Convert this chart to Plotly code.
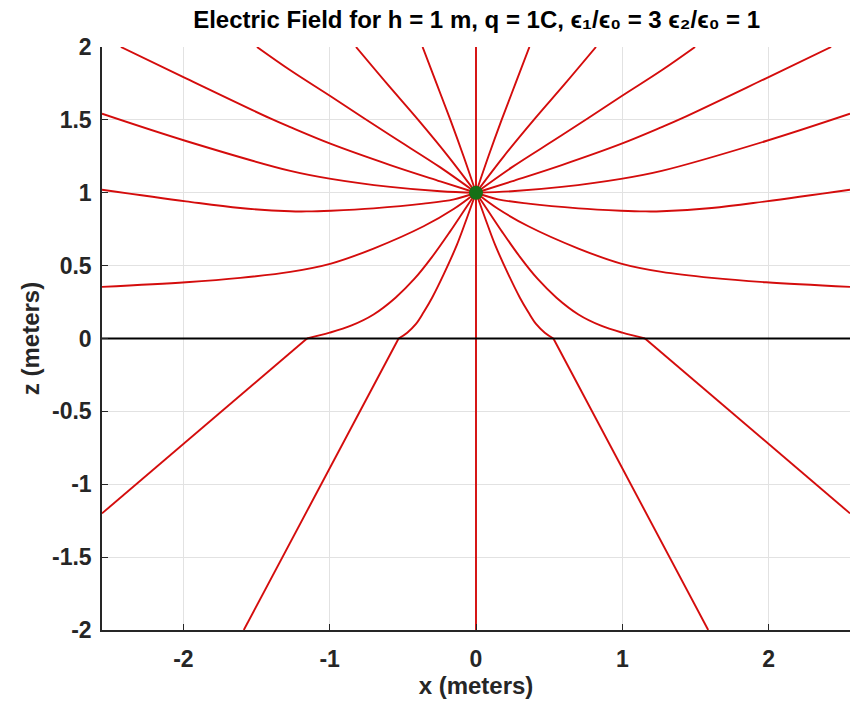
import plotly.graph_objects as go

# Field lines of a point charge at height h above a dielectric interface (z = 0).
# Upper region eps1/eps0 = 3 holds the charge, lower region eps2/eps0 = 1.

charge_x = [0.0]
charge_z = [1.0]

# Upper half-space lines, left side (read from charge outward)
l4_x = [0.0, -0.085, -0.175, -0.27, -0.365]
l4_z = [1.0, 1.25, 1.5, 1.75, 2.0]
l3_x = [0.0, -0.19, -0.395, -0.61, -0.82]
l3_z = [1.0, 1.25, 1.5, 1.75, 2.0]
l2_x = [0.0, -0.244, -0.586, -0.991, -1.269, -1.497]
l2_z = [1.0, 1.174, 1.394, 1.66, 1.84, 2.0]
l1_x = [0.0, -0.244, -0.586, -0.991, -1.269, -1.406, -1.982, -2.427]
l1_z = [1.0, 1.078, 1.19, 1.335, 1.45, 1.51, 1.785, 2.0]
l5_x = [0.0, -0.244, -0.586, -0.991, -1.269, -1.982, -2.556]
l5_z = [1.0, 1.01, 1.04, 1.095, 1.15, 1.355, 1.542]
l6_x = [0.0, -0.15, -0.358, -0.7, -0.991, -1.155, -1.269, -1.611, -1.982, -2.556]
l6_z = [1.0, 0.955, 0.925, 0.893, 0.877, 0.872, 0.873, 0.895, 0.941, 1.021]
l7_x = [0.0, -0.15, -0.358, -0.7, -0.991, -1.269, -1.611, -1.982, -2.556]
l7_z = [1.0, 0.89, 0.77, 0.617, 0.514, 0.457, 0.416, 0.386, 0.354]
l8_x = [0.0, -0.08, -0.18, -0.3, -0.42, -0.55, -0.7, -0.85, -1.0, -1.155]
l8_z = [1.0, 0.88, 0.73, 0.56, 0.41, 0.28, 0.165, 0.09, 0.04, 0.0]
l9_x = [0.0, -0.062, -0.13, -0.221, -0.3, -0.358, -0.41, -0.47, -0.529]
l9_z = [1.0, 0.827, 0.644, 0.44, 0.28, 0.18, 0.1, 0.04, 0.0]

# Upper half-space lines, right side
r4_x = [0.0, 0.085, 0.175, 0.27, 0.365]
r4_z = [1.0, 1.25, 1.5, 1.75, 2.0]
r3_x = [0.0, 0.19, 0.395, 0.61, 0.82]
r3_z = [1.0, 1.25, 1.5, 1.75, 2.0]
r2_x = [0.0, 0.244, 0.586, 0.991, 1.269, 1.497]
r2_z = [1.0, 1.174, 1.394, 1.66, 1.84, 2.0]
r1_x = [0.0, 0.244, 0.586, 0.991, 1.269, 1.406, 1.982, 2.427]
r1_z = [1.0, 1.078, 1.19, 1.335, 1.45, 1.51, 1.785, 2.0]
r5_x = [0.0, 0.244, 0.586, 0.991, 1.269, 1.982, 2.556]
r5_z = [1.0, 1.01, 1.04, 1.095, 1.15, 1.355, 1.542]
r6_x = [0.0, 0.15, 0.358, 0.7, 0.991, 1.155, 1.269, 1.611, 1.982, 2.556]
r6_z = [1.0, 0.955, 0.925, 0.893, 0.877, 0.872, 0.873, 0.895, 0.941, 1.021]
r7_x = [0.0, 0.15, 0.358, 0.7, 0.991, 1.269, 1.611, 1.982, 2.556]
r7_z = [1.0, 0.89, 0.77, 0.617, 0.514, 0.457, 0.416, 0.386, 0.354]
r8_x = [0.0, 0.08, 0.18, 0.3, 0.42, 0.55, 0.7, 0.85, 1.0, 1.155]
r8_z = [1.0, 0.88, 0.73, 0.56, 0.41, 0.28, 0.165, 0.09, 0.04, 0.0]
r9_x = [0.0, 0.062, 0.13, 0.221, 0.3, 0.358, 0.41, 0.47, 0.529]
r9_z = [1.0, 0.827, 0.644, 0.44, 0.28, 0.18, 0.1, 0.04, 0.0]

# Lower half-space: straight lines after refraction at z = 0
low_l8_x = [-1.155, -2.556]
low_l8_z = [0.0, -1.2]
low_l9_x = [-0.529, -1.587]
low_l9_z = [0.0, -2.0]
low_r8_x = [1.155, 2.556]
low_r8_z = [0.0, -1.2]
low_r9_x = [0.529, 1.587]
low_r9_z = [0.0, -2.0]

# Vertical line through the charge
axis_line_x = [0.0, 0.0]
axis_line_z = [-2.0, 2.0]

# Dielectric interface
interface_x = [-2.6, 2.6]
interface_z = [0.0, 0.0]

x_ticks = [-2, -1, 0, 1, 2]
x_tick_text = ["-2", "-1", "0", "1", "2"]
z_ticks = [-2, -1.5, -1, -0.5, 0, 0.5, 1, 1.5, 2]
z_tick_text = ["-2", "-1.5", "-1", "-0.5", "0", "0.5", "1", "1.5", "2"]

RED = "rgb(212,12,12)"
LW = 1.9
curves = [
    (l1_x, l1_z), (l2_x, l2_z), (l3_x, l3_z), (l4_x, l4_z), (l5_x, l5_z),
    (l6_x, l6_z), (l7_x, l7_z), (l8_x, l8_z), (l9_x, l9_z),
    (r1_x, r1_z), (r2_x, r2_z), (r3_x, r3_z), (r4_x, r4_z), (r5_x, r5_z),
    (r6_x, r6_z), (r7_x, r7_z), (r8_x, r8_z), (r9_x, r9_z),
]
straights = [
    (low_l8_x, low_l8_z), (low_l9_x, low_l9_z),
    (low_r8_x, low_r8_z), (low_r9_x, low_r9_z),
    (axis_line_x, axis_line_z),
]

fig = go.Figure()
for xs, zs in curves:
    fig.add_trace(go.Scatter(x=xs, y=zs, mode="lines",
                             line=dict(color=RED, width=LW, shape="spline", smoothing=1.0),
                             hoverinfo="skip", showlegend=False))
for xs, zs in straights:
    fig.add_trace(go.Scatter(x=xs, y=zs, mode="lines",
                             line=dict(color=RED, width=LW),
                             hoverinfo="skip", showlegend=False))

fig.add_trace(go.Scatter(x=interface_x, y=interface_z, mode="lines",
                         line=dict(color="black", width=2),
                         hoverinfo="skip", showlegend=False))
fig.add_trace(go.Scatter(x=charge_x, y=charge_z, mode="markers",
                         marker=dict(color="rgb(22,112,22)", size=14, line=dict(width=0)),
                         hoverinfo="skip", showlegend=False))

FONT = "Liberation Sans, Arial, Helvetica, sans-serif"
AX = "rgb(38,38,38)"
fig.update_layout(
    width=855, height=711,
    margin=dict(l=102, r=5, t=47, b=81),
    paper_bgcolor="white", plot_bgcolor="white",
    font=dict(family=FONT, size=23, color=AX, weight="bold"),
    title=dict(
        text="Electric Field for h = 1 m, q = 1C, ϵ₁/ϵ₀ = 3 ϵ₂/ϵ₀ = 1",
        x=0.5575, xanchor="center", y=0.973, yanchor="middle",
        font=dict(family=FONT, size=24, color="black", weight="bold"),
    ),
    xaxis=dict(
        range=[-2.556, 2.556], tickvals=x_ticks, ticktext=x_tick_text,
        showgrid=True, gridcolor="rgb(226,226,226)", gridwidth=1,
        zeroline=False, showline=True, linecolor=AX, linewidth=1.5,
        ticks="inside", ticklen=6, tickcolor=AX, ticklabelstandoff=8,
        tickfont=dict(size=23, weight="bold"),
        title=dict(text="x (meters)", font=dict(size=24, weight="bold"), standoff=6),
        mirror=False,
    ),
    yaxis=dict(
        range=[-2, 2], tickvals=z_ticks, ticktext=z_tick_text,
        showgrid=True, gridcolor="rgb(226,226,226)", gridwidth=1,
        zeroline=False, showline=True, linecolor=AX, linewidth=1.5,
        ticks="inside", ticklen=6, tickcolor=AX, ticklabelstandoff=4,
        tickfont=dict(size=23, weight="bold"),
        title=dict(text="z (meters)", font=dict(size=24, weight="bold"), standoff=6),
        mirror=False,
    ),
)

fig.write_html("out.html")
